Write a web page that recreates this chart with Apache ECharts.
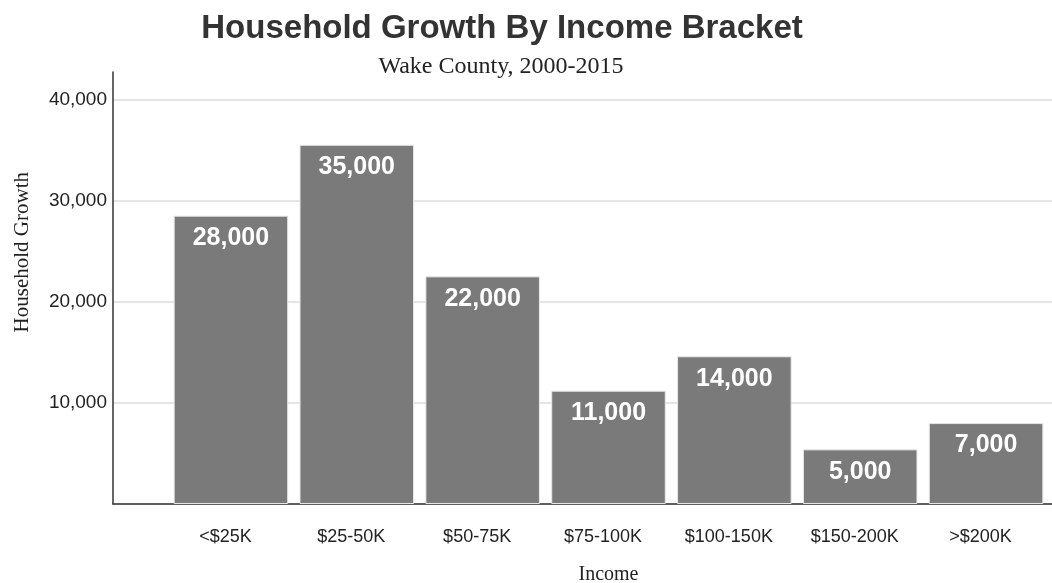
<!DOCTYPE html>
<html>
<head>
<meta charset="utf-8">
<script src="https://cdn.jsdelivr.net/npm/echarts@6/dist/echarts.min.js"></script>
<style>
  html, body { margin: 0; padding: 0; background: #fff; }
  #chart { width: 1052px; height: 583px; }
</style>
</head>
<body>
<div id="chart"></div>
<script>
// income brackets on the x axis
const categories = ["<$25K", "$25-50K", "$50-75K", "$75-100K", "$100-150K", "$150-200K", ">$200K"];
// bar heights as drawn
const growth = [28500, 35500, 22500, 11200, 14600, 5400, 8000];
// labels printed inside the bars (they don't quite match the bar heights)
const barLabels = ["28,000", "35,000", "22,000", "11,000", "14,000", "5,000", "7,000"];
const yTicks = [10000, 20000, 30000, 40000];

const chart = echarts.init(document.getElementById("chart"));

const sans = "Liberation Sans, Arial, sans-serif";
const serif = "Liberation Serif, Times New Roman, serif";
const yMax = 42700;

chart.setOption({
  backgroundColor: "#fff",
  animation: false,
  title: [
    {
      text: "Household Growth By Income Bracket",
      left: 497,
      textAlign: "center",
      top: 7,
      textStyle: { fontFamily: sans, fontSize: 33, fontWeight: "bold", color: "#333" },
    },
    {
      text: "Wake County, 2000-2015",
      left: 496,
      textAlign: "center",
      top: 50,
      textStyle: { fontFamily: serif, fontSize: 24, fontWeight: "normal", color: "#222" },
    },
  ],
  graphic: [
    {
      type: "text",
      left: 12,
      top: 172,
      rotation: Math.PI / 2,
      style: { text: "Household Growth", font: "21px " + serif, fill: "#222" },
    },
  ],
  grid: [
    // frame: y axis + gridlines + bottom line
    { left: 113, right: 0, top: 72, bottom: 79, outerBoundsMode: "none" },
    // bars
    { left: 168, right: 3, top: 72, bottom: 79, outerBoundsMode: "none" },
  ],
  xAxis: [
    {
      gridIndex: 0,
      type: "value",
      min: 0,
      max: 1,
      axisLine: { show: true, lineStyle: { color: "#333", width: 1.5 } },
      axisTick: { show: false },
      axisLabel: { show: false },
      splitLine: { show: false },
    },
    {
      gridIndex: 1,
      type: "category",
      data: categories,
      axisLine: { show: false },
      axisTick: { show: false },
      axisLabel: { margin: 24, padding: [0, 11, 0, 0], fontFamily: sans, fontSize: 18, color: "#222" },
      name: "Income",
      nameLocation: "middle",
      nameGap: 61,
      nameTextStyle: { fontFamily: serif, fontSize: 20, color: "#222" },
    },
  ],
  yAxis: [
    {
      gridIndex: 0,
      type: "value",
      min: 0,
      max: yMax,
      interval: 10000,
      axisLine: { show: true, lineStyle: { color: "#333", width: 1.5 } },
      axisTick: { show: false },
      axisLabel: {
        margin: 6,
        fontFamily: sans,
        fontSize: 19,
        color: "#222",
        formatter: (v) => (yTicks.includes(v) ? v.toLocaleString("en-US") : ""),
      },
      splitLine: {
        lineStyle: { color: ["#ddd", "#ddd", "#ddd", "#ddd", "#ddd", "rgba(0,0,0,0)"], width: 1.5 },
      },
    },
    {
      gridIndex: 1,
      type: "value",
      min: 0,
      max: yMax,
      show: false,
    },
  ],
  series: [
    {
      type: "bar",
      xAxisIndex: 1,
      yAxisIndex: 1,
      data: growth,
      barCategoryGap: "9%",
      itemStyle: { color: "#7a7a7a", borderColor: "#e6e6e6", borderWidth: 1 },
      label: {
        show: true,
        position: "insideTop",
        distance: 10,
        fontFamily: sans,
        fontSize: 25,
        fontWeight: "bold",
        color: "#fff",
        formatter: (p) => barLabels[p.dataIndex],
      },
    },
  ],
});
</script>
</body>
</html>
